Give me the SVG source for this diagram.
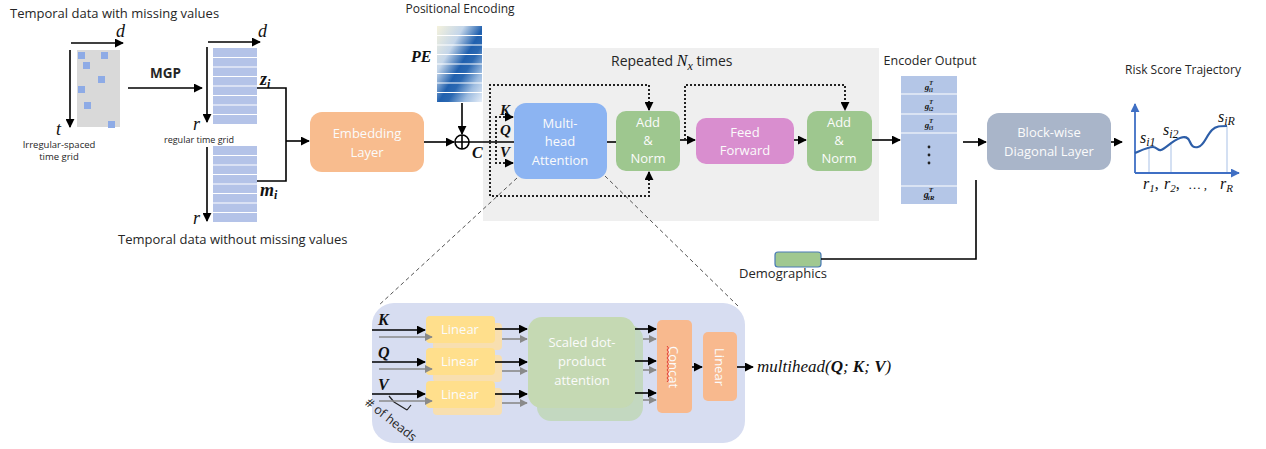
<svg xmlns="http://www.w3.org/2000/svg" width="1266" height="449" viewBox="0 0 1266 449">
<defs>
<style>
.lbl{font-family:"Open Sans","Noto Sans",sans-serif;fill:#262626}
.box{font-family:"Open Sans","Noto Sans",sans-serif;fill:#fbfbfb;text-anchor:middle;font-size:13px}
.math{font-family:"Liberation Serif","DejaVu Serif",serif;font-style:italic;fill:#111}
.mb{font-family:"Liberation Serif","DejaVu Serif",serif;font-style:italic;font-weight:bold;fill:#111}
.ln{stroke:#000;stroke-width:1.6;fill:none}
.arr{marker-end:url(#ah)}
.dot{stroke:#222;stroke-width:2;stroke-dasharray:2 2;fill:none}
.gray{stroke:#8a8a8a;stroke-width:1.6;fill:none;marker-end:url(#ahg)}
.dash{stroke:#555;stroke-width:1;stroke-dasharray:4 3;fill:none}
.sep{stroke:#fff;stroke-width:1.2}
</style>
<marker id="ah" viewBox="0 0 10 10" refX="9" refY="5" markerWidth="9" markerHeight="9" markerUnits="userSpaceOnUse" orient="auto"><path d="M0,0 L10,5 L0,10 z" fill="#000"/></marker>
<marker id="ahg" viewBox="0 0 10 10" refX="9" refY="5" markerWidth="8" markerHeight="8" markerUnits="userSpaceOnUse" orient="auto"><path d="M0,0 L10,5 L0,10 z" fill="#8a8a8a"/></marker>
<marker id="ahb" viewBox="0 0 10 10" refX="9" refY="5" markerWidth="9" markerHeight="9" markerUnits="userSpaceOnUse" orient="auto"><path d="M0,0 L10,5 L0,10 z" fill="#3f6fc4"/></marker>
<linearGradient id="pe" x1="0" y1="0" x2="1" y2="1">
<stop offset="0" stop-color="#f5f2dc"/>
<stop offset="0.3" stop-color="#c4d6ea"/>
<stop offset="0.52" stop-color="#2060ae"/>
<stop offset="0.62" stop-color="#2a68b2"/>
<stop offset="0.8" stop-color="#9dbce0"/>
<stop offset="1" stop-color="#e6eef8"/>
</linearGradient>
<g id="stripes">
<rect x="0" y="0" width="44" height="76" fill="#b4c3e8"/>
<path class="sep" d="M0,9.5H44M0,19H44M0,28.5H44M0,38H44M0,47.5H44M0,57H44M0,66.5H44"/>
</g>
</defs>
<rect width="1266" height="449" fill="#fff"/>

<!-- repeated encoder block background -->
<rect id="repeat-bg" x="483" y="48" width="396" height="173" fill="#efefef"/>
<text class="lbl" x="611" y="66" font-size="14">Repeated <tspan class="math" font-size="16">N</tspan><tspan class="math" font-size="12" dy="4">x</tspan><tspan dy="-4"> times</tspan></text>

<!-- irregular input -->
<g id="input-irregular">
<text class="lbl" x="10" y="18" font-size="13">Temporal data with missing values</text>
<rect x="77" y="50" width="43" height="77" fill="#d9d9d9"/>
<g fill="#8eabe6">
<rect x="78" y="52" width="7" height="7"/><rect x="101" y="52" width="7" height="7"/>
<rect x="83" y="62" width="7" height="7"/><rect x="98" y="76" width="7" height="7"/>
<rect x="78" y="86" width="7" height="7"/><rect x="84" y="102" width="7" height="7"/>
<rect x="108" y="121" width="7" height="7"/>
</g>
<path class="ln arr" d="M71,43H123"/>
<path class="ln arr" d="M70,50V127"/>
<text class="math" x="116" y="37" font-size="18">d</text>
<text class="math" x="56" y="135" font-size="18">t</text>
<text class="lbl" x="59" y="148" font-size="9.5" text-anchor="middle">Irregular-spaced</text>
<text class="lbl" x="59" y="160" font-size="9.5" text-anchor="middle">time grid</text>
</g>

<!-- MGP -->
<g id="mgp">
<text class="lbl" x="150" y="78" font-size="13.5" font-weight="bold">MGP</text>
</g>

<!-- regular grid z -->
<g id="z-grid">
<use href="#stripes" x="213" y="48"/>
<path class="ln arr" d="M208,42H260"/>
<path class="ln arr" d="M207,47V122"/>
<text class="math" x="258" y="37" font-size="18">d</text>
<text class="math" x="193" y="130" font-size="18">r</text>
<text class="lbl" x="199" y="143" font-size="9" text-anchor="middle">regular time grid</text>
<text class="mb" x="260" y="85" font-size="18">z<tspan font-size="12" dy="3">i</tspan></text>
</g>

<!-- mask m -->
<g id="m-grid">
<use href="#stripes" x="213" y="146"/>
<path class="ln arr" d="M207,147V221"/>
<text class="math" x="193" y="224" font-size="18">r</text>
<text class="mb" x="260" y="196" font-size="18">m<tspan font-size="12" dy="3">i</tspan></text>
<text class="lbl" x="118" y="244" font-size="13">Temporal data without missing values</text>
</g>

<!-- embedding -->
<g id="embedding">
<rect x="310" y="112" width="114" height="60" rx="12" fill="#f8bc8e"/>
<text class="box" x="367" y="138">Embedding</text>
<text class="box" x="367" y="157">Layer</text>
</g>

<!-- positional encoding -->
<g id="pos-enc">
<text class="lbl" x="460" y="13" font-size="12" text-anchor="middle">Positional Encoding</text>
<rect x="437" y="26" width="45" height="76" fill="url(#pe)"/>
<path class="sep" d="M437,35.5H482M437,45H482M437,54.5H482M437,64H482M437,73.5H482M437,83H482M437,92.5H482"/>
<text class="mb" x="411" y="62" font-size="16">PE</text>
</g>

<!-- sum node -->
<g id="sum">
<circle cx="462" cy="142" r="7" fill="#fff" stroke="#000" stroke-width="1.6"/>
<path class="ln" d="M455,142H469M462,135V149"/>
<text class="mb" x="472" y="158" font-size="16">C</text>
</g>

<!-- multi-head attention -->
<g id="mha">
<rect x="514" y="103" width="93" height="76" rx="12" fill="#8cb4f2"/>
<text class="box" x="560" y="128">Multi-</text>
<text class="box" x="560" y="146">head</text>
<text class="box" x="560" y="165">Attention</text>
<text class="mb" x="500" y="115" font-size="15">K</text>
<text class="mb" x="500" y="135" font-size="15">Q</text>
<text class="mb" x="500" y="157" font-size="15">V</text>
</g>

<g id="addnorm1">
<rect x="616" y="111" width="64" height="60" rx="10" fill="#9ec78f"/>
<text class="box" x="648" y="127">Add</text>
<text class="box" x="648" y="145">&amp;</text>
<text class="box" x="648" y="163">Norm</text>
</g>

<g id="ffn">
<rect x="696" y="118" width="98" height="46" rx="10" fill="#d98ecf"/>
<text class="box" x="745" y="137">Feed</text>
<text class="box" x="745" y="155">Forward</text>
</g>

<g id="addnorm2">
<rect x="807" y="111" width="65" height="60" rx="10" fill="#9ec78f"/>
<text class="box" x="839" y="127">Add</text>
<text class="box" x="839" y="145">&amp;</text>
<text class="box" x="839" y="163">Norm</text>
</g>

<!-- encoder output -->
<g id="encoder-output">
<text class="lbl" x="930" y="65" font-size="12.5" text-anchor="middle">Encoder Output</text>
<rect x="901" y="76" width="56" height="128" fill="#b4c6e7"/>
<path class="sep" d="M901,94H957M901,114H957M901,133H957M901,186H957"/>
<g class="mb" font-size="9" text-anchor="middle" fill="#333">
<text x="929" y="90">g<tspan font-size="6" dy="-5">T</tspan><tspan font-size="5.5" dx="-4" dy="7">i1</tspan></text>
<text x="929" y="109">g<tspan font-size="6" dy="-5">T</tspan><tspan font-size="5.5" dx="-4" dy="7">i2</tspan></text>
<text x="929" y="128">g<tspan font-size="6" dy="-5">T</tspan><tspan font-size="5.5" dx="-4" dy="7">i3</tspan></text>
<text x="929" y="198" font-size="10">g<tspan font-size="7" dy="-6">T</tspan><tspan font-size="7" dx="-5" dy="8">iR</tspan></text>
</g>
<circle cx="929" cy="147" r="1.4" fill="#222"/>
<circle cx="929" cy="155" r="1.4" fill="#222"/>
<circle cx="929" cy="163" r="1.4" fill="#222"/>
</g>

<g id="blockwise">
<rect x="987" y="113" width="124" height="57" rx="12" fill="#a9b5c9"/>
<text class="box" x="1049" y="137">Block-wise</text>
<text class="box" x="1049" y="156">Diagonal Layer</text>
</g>

<g id="demographics">
<rect x="775" y="252" width="46" height="15" rx="3" fill="#a0c890" stroke="#4a7ab5" stroke-width="1.2"/>
<text class="lbl" x="783" y="278" font-size="13" text-anchor="middle">Demographics</text>
</g>

<!-- risk score chart -->
<g id="risk-chart">
<text class="lbl" x="1183" y="74" font-size="12" text-anchor="middle">Risk Score Trajectory</text>
<path d="M1149,148V173M1171,142V173M1227,126V173" stroke="#a9c1e6" stroke-width="1"/>
<path d="M1135,173V104" stroke="#3f6fc4" stroke-width="1.8" fill="none" marker-end="url(#ahb)"/>
<path d="M1135,173H1239" stroke="#3f6fc4" stroke-width="1.8" fill="none" marker-end="url(#ahb)"/>
<path d="M1135,153C1142,150 1148,147 1153,147C1157,147 1158,151 1161,150C1166,148 1172,141 1180,138C1185,136 1188,137 1190,142C1192,147 1194,148 1198,147C1204,146 1206,136 1212,130C1216,126 1220,126 1227,126" stroke="#2d5ea8" stroke-width="2.2" fill="none"/>
<text class="math" x="1140" y="143" font-size="16">s<tspan font-size="12" dy="3">i1</tspan></text>
<text class="math" x="1163" y="135" font-size="16">s<tspan font-size="12" dy="3">i2</tspan></text>
<text class="math" x="1218" y="122" font-size="16">s<tspan font-size="12" dy="3">iR</tspan></text>
<text class="math" x="1143" y="189" font-size="16">r<tspan font-size="11" dy="3">1</tspan><tspan dy="-3" font-style="normal">,</tspan></text>
<text class="math" x="1164" y="189" font-size="16">r<tspan font-size="11" dy="3">2</tspan><tspan dy="-3" font-style="normal">,</tspan></text>
<text class="math" x="1189" y="189" font-size="13" font-style="normal">… ,</text>
<text class="math" x="1220" y="189" font-size="16">r<tspan font-size="11" dy="3">R</tspan></text>
</g>

<!-- multi-head attention detail -->
<g id="mha-detail">
<rect x="372" y="303" width="373" height="140" rx="22" fill="#d7ddf1"/>
<g fill="#f8dfb0">
<rect x="433" y="323" width="69" height="27" rx="4"/>
<rect x="433" y="355" width="69" height="27" rx="4"/>
<rect x="433" y="388" width="69" height="27" rx="4"/>
</g>
<g fill="#ffdf8c">
<rect x="426" y="316" width="69" height="27" rx="4"/>
<rect x="426" y="348" width="69" height="27" rx="4"/>
<rect x="426" y="381" width="69" height="27" rx="4"/>
</g>
<text class="box" x="460" y="334">Linear</text>
<text class="box" x="460" y="366">Linear</text>
<text class="box" x="460" y="399">Linear</text>
<rect x="537" y="325" width="106" height="96" rx="14" fill="#c3d8c0"/>
<rect x="528" y="317" width="107" height="91" rx="14" fill="#c5d9b3"/>
<text class="box" x="582" y="347">Scaled dot-</text>
<text class="box" x="582" y="366">product</text>
<text class="box" x="582" y="385">attention</text>
<rect x="657" y="320" width="35" height="93" rx="5" fill="#f8b98e"/>
<text class="box" transform="translate(669,367) rotate(90)" y="0">Concat</text>
<path d="M667,346l1.5,2l-1.5,2l1.5,2l-1.5,2l1.5,2l-1.5,2l1.5,2l-1.5,2l1.5,2l-1.5,2l1.5,2l-1.5,2l1.5,2l-1.5,2l1.5,2l-1.5,2l1.5,2l-1.5,2" stroke="#e0302a" stroke-width="0.9" fill="none"/>
<rect x="703" y="332" width="34" height="69" rx="5" fill="#f8b98e"/>
<text class="box" transform="translate(715,367) rotate(90)" y="0">Linear</text>
<text class="mb" x="378" y="325" font-size="16">K</text>
<text class="mb" x="378" y="358" font-size="16">Q</text>
<text class="mb" x="378" y="390" font-size="16">V</text>
<text class="math" x="757" y="372" font-size="17">multihead(<tspan class="mb">Q</tspan>; <tspan class="mb">K</tspan>; <tspan class="mb">V</tspan>)</text>
<text class="lbl" transform="translate(364,404) rotate(38)" font-size="12.5">#  of heads</text>
<path d="M389,396L394,402M394,402L407,410M407,410L411,405" stroke="#222" stroke-width="1.2" fill="none"/>
</g>

<!-- connectors -->
<g id="connectors">
<path class="ln arr" d="M128,88H202"/>
<path class="ln" d="M257,88H286V181H257"/>
<path class="ln arr" d="M286,141H309"/>
<path class="ln arr" d="M424,142H454"/>
<path class="ln arr" d="M462,103V134"/>
<path class="ln" d="M469,142H514"/>
<path class="dot arr" d="M490,142V85H649V110"/>
<path class="dot arr" d="M490,142V196H649V172"/>
<path class="dot arr" d="M496,142V117H513"/>
<path class="dot arr" d="M496,142V163H513"/>
<path class="ln" d="M607,142H616"/>
<path class="ln arr" d="M680,140H695"/>
<path class="dot arr" d="M685,140V85H845V110"/>
<path class="ln arr" d="M794,140H806"/>
<path class="ln arr" d="M872,140H900"/>
<path class="ln arr" d="M963,142H986"/>
<path class="ln arr" d="M1111,142H1122"/>
<path class="ln" d="M976,180V259H821"/>
<path class="dash" d="M517,178L378,306"/>
<path class="dash" d="M605,176L738,306"/>
<path class="ln arr" d="M372,330H425"/>
<path class="ln arr" d="M372,362H425"/>
<path class="ln arr" d="M372,394H425"/>
<path class="gray" d="M379,337H432"/>
<path class="gray" d="M379,369H432"/>
<path class="gray" d="M379,401H432"/>
<path class="ln arr" d="M495,329H527"/>
<path class="ln arr" d="M495,362H527"/>
<path class="ln arr" d="M495,394H527"/>
<path class="gray" d="M502,339H527"/>
<path class="gray" d="M502,371H527"/>
<path class="gray" d="M502,403H527"/>
<path class="ln arr" d="M635,329H656"/>
<path class="ln arr" d="M635,361H656"/>
<path class="ln arr" d="M635,393H656"/>
<path class="gray" d="M643,339H656"/>
<path class="gray" d="M643,370H656"/>
<path class="gray" d="M643,400H656"/>
<path class="ln arr" d="M692,367H702"/>
<path class="ln arr" d="M737,367H753"/>
</g>
</svg>
